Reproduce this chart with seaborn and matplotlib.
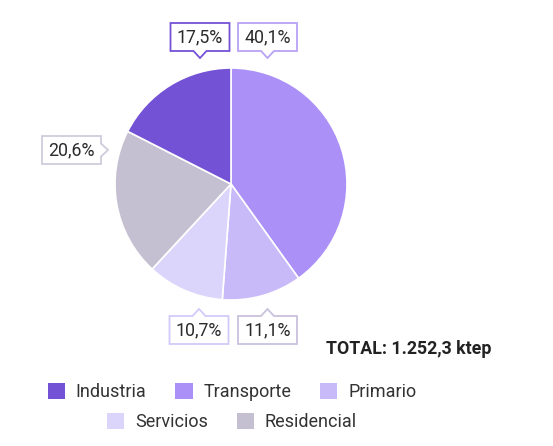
import matplotlib
matplotlib.use("Agg")
import matplotlib.pyplot as plt
import seaborn as sns
from matplotlib.patches import Polygon, Patch

sns.set_theme(style="white")
plt.rcParams['font.family'] = ['Roboto', 'DejaVu Sans']

# ---- data ----
sectors = ["Transporte", "Primario", "Servicios", "Residencial", "Industria"]
shares = [40.1, 11.1, 10.7, 20.6, 17.5]
labels = ["40,1%", "11,1%", "10,7%", "20,6%", "17,5%"]
legend_order = ["Industria", "Transporte", "Primario", "Servicios", "Residencial"]
total_text = "TOTAL: 1.252,3 ktep"

colors = {
    "Industria": "#7452d6",
    "Transporte": "#ab90f7",
    "Primario": "#c8b9f9",
    "Servicios": "#dcd5fb",
    "Residencial": "#c4bfd1",
}
edge_colors = {
    "Industria": "#7452d6",
    "Transporte": "#b9a3f5",
    "Primario": "#c9c2dc",
    "Servicios": "#d3c9fa",
    "Residencial": "#d0cbdc",
}

W, H = 553, 446
fig = plt.figure(figsize=(W / 100, H / 100), dpi=100)
ax = fig.add_axes([0, 0, 1, 1])

cx, cy, R = 231, H - 184, 116
wedges, _ = ax.pie(shares, colors=[colors[s] for s in sectors], startangle=90,
                   counterclock=False, center=(cx, cy), radius=R,
                   wedgeprops=dict(edgecolor="white", linewidth=1.2))
ax.set_xlim(0, W)
ax.set_ylim(0, H)
ax.set_aspect("auto")
ax.axis("off")

# label box layout: (box center x, box center y in px from top, tail side)
layout = {
    "Transporte": (267.5, 37, "bottom"),
    "Primario": (267.5, 330, "top"),
    "Servicios": (199, 330, "top"),
    "Residencial": (71.5, 150, "right"),
    "Industria": (200, 37, "bottom"),
}
bw, bh, tw, th = 59, 28, 13, 7


def callout(x, y, side):
    l, r, b, t = x - bw / 2, x + bw / 2, y - bh / 2, y + bh / 2
    if side == "bottom":
        pts = [(l, t), (r, t), (r, b), (x + tw / 2, b), (x, b - th), (x - tw / 2, b), (l, b)]
    elif side == "top":
        pts = [(l, b), (r, b), (r, t), (x + tw / 2, t), (x, t + th), (x - tw / 2, t), (l, t)]
    else:
        pts = [(l, b), (l, t), (r, t), (r, y + tw / 2), (r + th, y), (r, y - tw / 2), (r, b)]
    return pts


for s, lab in zip(sectors, labels):
    px, py, side = layout[s]
    x, y = px, H - py
    ax.add_patch(Polygon(callout(x, y, side), closed=True, facecolor="white",
                         edgecolor=edge_colors[s], linewidth=1.3, zorder=5))
    ax.text(x, y - 0.5, lab, ha="center", va="center", fontsize=12.8,
            fontweight="normal", color="#2b2b2b", zorder=6)

ax.text(492, H - 349, total_text, ha="right", va="center", fontsize=12.8,
        fontweight="bold", color="#222222")

rows = [legend_order[:3], legend_order[3:]]
ys = [H - 392, H - 422]
for row, yy in zip(rows, ys):
    handles = [Patch(facecolor=colors[s], edgecolor="none") for s in row]
    leg = fig.legend(handles, row, loc="center", bbox_to_anchor=(232 / W, yy / H),
                     ncol=len(row), frameon=False, fontsize=13, handlelength=0.95,
                     handleheight=0.95, handletextpad=0.6, columnspacing=1.6,
                     borderaxespad=0, borderpad=0)
    for t in leg.get_texts():
        t.set_color("#333333")

fig.savefig("out.png", dpi=100)
